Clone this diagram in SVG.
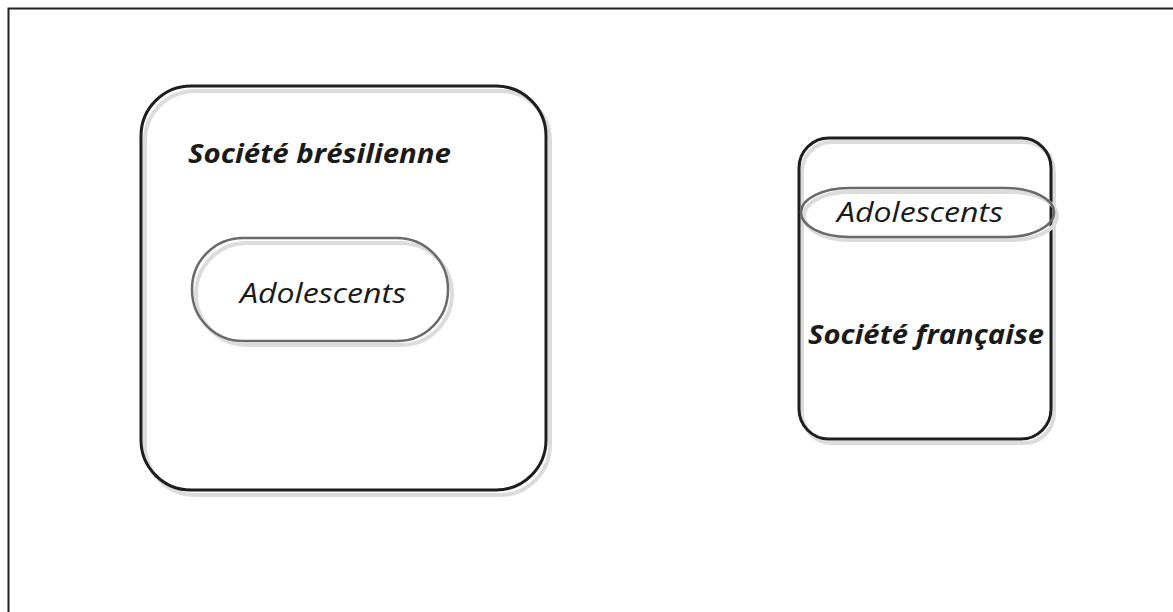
<svg xmlns="http://www.w3.org/2000/svg" width="1173" height="612" viewBox="0 0 1173 612">
<style>
.box{fill:none;stroke:#1e1e1e;stroke-width:3}
.pill{fill:none;stroke:#6a6a6a;stroke-width:2.5}
.sh{fill:none;stroke:#dcdcdc;stroke-width:4}
.t{font-family:"Open Sans","Liberation Sans",sans-serif;font-style:italic;fill:#1a1a1a}
.b{font-weight:bold}
</style>
<rect width="1173" height="612" fill="#fff"/>
<path d="M8.5 612 V8.5 H1173" fill="none" stroke="#222" stroke-width="2"/>
<g id="bresil">
<rect class="sh" x="145" y="91" width="405" height="404" rx="50"/>
<rect class="box" x="141" y="86" width="405" height="404" rx="50" fill="#fff"/>
<text class="t b" x="188" y="163" font-size="27" textLength="263" lengthAdjust="spacingAndGlyphs">Société brésilienne</text>
</g>
<g id="adol1">
<rect class="sh" x="196" y="243" width="256" height="102" rx="51"/>
<rect class="pill" x="192" y="238" width="256" height="103" rx="51" fill="#fff"/>
<text class="t" x="240" y="303" font-size="28" textLength="166" lengthAdjust="spacingAndGlyphs">Adolescents</text>
</g>
<g id="france">
<rect class="sh" x="802" y="142" width="252" height="301" rx="30"/>
<rect class="box" x="799" y="138" width="252" height="301" rx="30" fill="#fff"/>
<text class="t b" x="808" y="344" font-size="27" textLength="236" lengthAdjust="spacingAndGlyphs">Société française</text>
</g>
<g id="adol2">
<rect class="sh" x="804" y="192" width="253" height="48" rx="45" ry="24"/>
<rect class="pill" x="801" y="188" width="253" height="49" rx="48" ry="24.5"/>
<text class="t" x="837" y="222" font-size="27" textLength="166" lengthAdjust="spacingAndGlyphs">Adolescents</text>
</g>
<g id="connectors"></g>
</svg>
